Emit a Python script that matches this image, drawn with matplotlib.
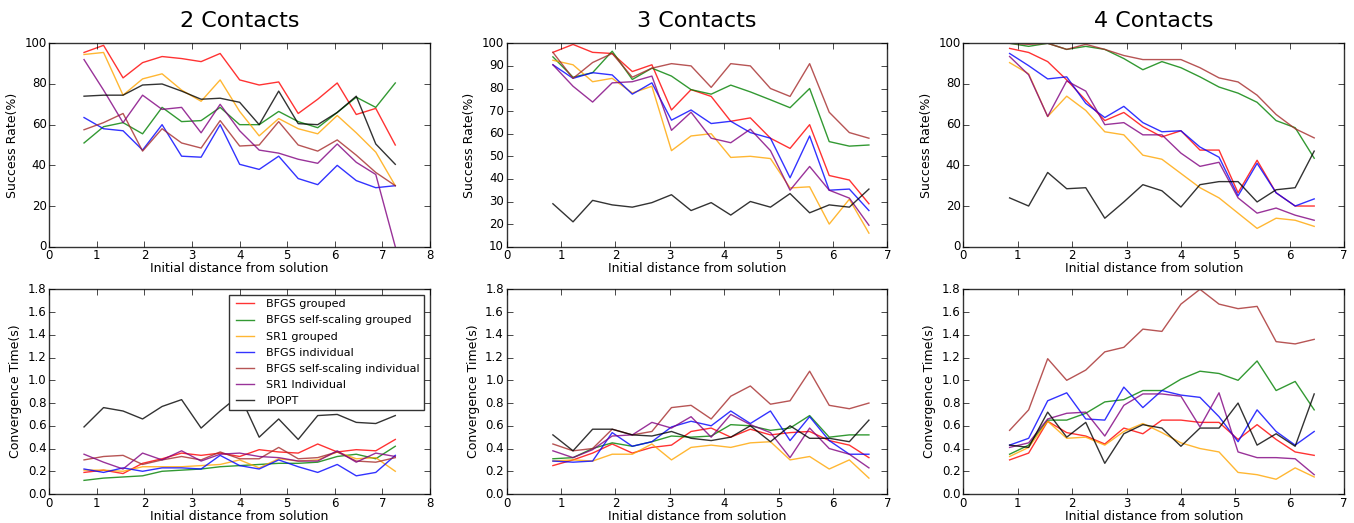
import numpy as np
import matplotlib
matplotlib.use("Agg")
import matplotlib.pyplot as plt

plt.style.use('classic')
plt.rcParams['font.family'] = 'DejaVu Sans'

labels = ['BFGS grouped', 'BFGS self-scaling grouped', 'SR1 grouped', 'BFGS individual',
          'BFGS self-scaling individual', 'SR1 Individual', 'IPOPT']
colors = ['red', 'green', 'orange', 'blue', 'brown', 'purple', 'black']
titles = ['2 Contacts', '3 Contacts', '4 Contacts']

# x positions (initial distance) for each contact count
x_2c = [0.73, 1.14, 1.55, 1.96, 2.37, 2.78, 3.19, 3.59, 4.0, 4.41, 4.82, 5.23, 5.64, 6.05, 6.45, 6.86, 7.27]
x_3c = [0.85, 1.22, 1.58, 1.94, 2.31, 2.67, 3.03, 3.39, 3.76, 4.12, 4.48, 4.85, 5.21, 5.57, 5.93, 6.30, 6.66]
x_4c = [0.85, 1.2, 1.55, 1.9, 2.25, 2.6, 2.95, 3.3, 3.65, 4.0, 4.35, 4.7, 5.05, 5.4, 5.75, 6.1, 6.45]

# success rate (%) - 2 contacts
sr_2c = [
    [95.5, 99, 83, 90.5, 93.5, 92.5, 91, 95, 82, 79.5, 81, 65.5, 72.5, 80.5, 65, 68, 50],
    [51, 59, 61, 55.5, 68.5, 61.5, 62, 68.5, 60, 60, 66.5, 61.5, 58.5, 66, 73.5, 68.5, 80.5],
    [94.5, 95.5, 74.5, 82.5, 85, 77, 71.5, 82, 66.5, 54.5, 63, 58, 55.5, 64.5, 56, 46.5, 30],
    [63.5, 58, 57, 47.5, 60, 44.5, 44, 60, 40.5, 38, 44.5, 33.5, 30.5, 40, 32.5, 29, 30],
    [57.5, 61, 65.5, 47, 58, 51, 48.5, 62, 49.5, 50, 61.5, 50, 47, 52.5, 45, 36.5, 30],
    [92, 77, 61, 74.5, 67.5, 68.5, 56, 70, 57, 47.5, 46, 43, 41, 50.5, 41.5, 35.5, 0],
    [74, 74.5, 74.5, 79.5, 80, 76.5, 72.5, 73, 71, 60, 76.5, 60.5, 60, 66, 74, 50.5, 40.5],
]

# success rate (%) - 3 contacts
sr_3c = [
    [96, 99.5, 96, 95.5, 87.5, 90.5, 70.5, 79.5, 76.5, 65.5, 67, 58, 53.5, 64, 41.5, 39.5, 29],
    [94, 85, 87, 96.5, 84, 89, 85.5, 79.5, 77.5, 81.5, 78.5, 75, 71.5, 80, 56.5, 54.5, 55],
    [92.5, 90.5, 83, 84.5, 78, 81, 52.5, 59, 60, 49.5, 50, 49, 36, 36.5, 20, 31, 16],
    [90.5, 84.5, 87, 86, 77.5, 82.5, 66, 70.5, 64.5, 65.5, 60.5, 58, 40.5, 59, 35, 35.5, 26],
    [96, 84.5, 91.5, 95.5, 85, 89, 91, 90, 80.5, 91, 90, 80, 76.5, 91, 69.5, 60.5, 58],
    [90.5, 81, 74, 82.5, 83, 85.5, 61.5, 69.5, 58, 56, 62, 52.5, 35, 45.5, 35, 31.5, 19.5],
    [29, 21, 30.5, 28.5, 27.5, 29.5, 33, 26, 29.5, 24, 30, 27.5, 33.5, 25, 28.5, 27.5, 35.5],
]

# success rate (%) - 4 contacts
sr_4c = [
    [97.5, 95.5, 91, 82, 72, 62, 66, 59, 54, 57, 47.5, 47.5, 26.5, 42.5, 26.5, 20, 20],
    [100, 98.5, 100, 97, 98.5, 97, 92.5, 87, 91, 88, 83.5, 78.5, 75.5, 71, 62, 58.5, 43.5],
    [90.5, 85, 64, 74, 67, 56.5, 55, 45, 43, 36, 29, 24, 16.5, 9, 14, 13, 10],
    [95, 89, 82.5, 83.5, 70.5, 63.5, 69, 61, 56.5, 57, 49, 44, 25, 41, 26.5, 20, 23.5],
    [100, 99.5, 100, 97, 99.5, 97, 94, 92, 92, 92, 88, 83, 81, 74.5, 65, 58, 53.5],
    [93.5, 84.5, 64, 81.5, 76.5, 60, 61, 55, 55, 46, 39.5, 41.5, 24, 16.5, 19, 15.5, 13],
    [24, 20, 36.5, 28.5, 29, 14, 22, 30.5, 27.5, 19.5, 30.5, 32, 32, 22, 28, 29, 47],
]

# convergence time (s) - 2 contacts
ct_2c = [
    [0.19, 0.21, 0.18, 0.27, 0.31, 0.36, 0.34, 0.36, 0.33, 0.39, 0.37, 0.36, 0.44, 0.37, 0.39, 0.38, 0.48],
    [0.12, 0.14, 0.15, 0.16, 0.20, 0.21, 0.22, 0.24, 0.25, 0.26, 0.27, 0.27, 0.28, 0.33, 0.35, 0.31, 0.42],
    [0.21, 0.21, 0.20, 0.24, 0.24, 0.24, 0.25, 0.26, 0.30, 0.23, 0.31, 0.29, 0.30, 0.37, 0.31, 0.32, 0.20],
    [0.22, 0.19, 0.23, 0.20, 0.23, 0.23, 0.22, 0.34, 0.25, 0.22, 0.30, 0.24, 0.19, 0.26, 0.16, 0.19, 0.34],
    [0.30, 0.33, 0.34, 0.26, 0.30, 0.33, 0.30, 0.37, 0.31, 0.31, 0.41, 0.31, 0.32, 0.37, 0.29, 0.28, 0.32],
    [0.35, 0.28, 0.22, 0.36, 0.30, 0.38, 0.29, 0.35, 0.36, 0.33, 0.32, 0.29, 0.29, 0.38, 0.28, 0.36, 0.33],
    [0.59, 0.76, 0.73, 0.66, 0.77, 0.83, 0.58, 0.73, 0.87, 0.50, 0.66, 0.48, 0.69, 0.70, 0.63, 0.62, 0.69],
]

# convergence time (s) - 3 contacts
ct_3c = [
    [0.25, 0.30, 0.36, 0.44, 0.36, 0.41, 0.43, 0.55, 0.58, 0.50, 0.57, 0.52, 0.54, 0.55, 0.47, 0.43, 0.32],
    [0.31, 0.32, 0.40, 0.45, 0.42, 0.46, 0.51, 0.50, 0.51, 0.61, 0.60, 0.56, 0.58, 0.69, 0.50, 0.52, 0.52],
    [0.29, 0.30, 0.29, 0.35, 0.35, 0.44, 0.30, 0.41, 0.43, 0.41, 0.45, 0.46, 0.30, 0.33, 0.22, 0.30, 0.14],
    [0.29, 0.28, 0.29, 0.54, 0.42, 0.46, 0.59, 0.64, 0.60, 0.73, 0.62, 0.73, 0.47, 0.68, 0.47, 0.35, 0.35],
    [0.44, 0.38, 0.40, 0.57, 0.52, 0.55, 0.76, 0.78, 0.66, 0.86, 0.95, 0.79, 0.82, 1.08, 0.78, 0.75, 0.80],
    [0.38, 0.32, 0.39, 0.51, 0.52, 0.63, 0.58, 0.68, 0.50, 0.70, 0.61, 0.54, 0.32, 0.58, 0.40, 0.35, 0.23],
    [0.52, 0.38, 0.57, 0.57, 0.52, 0.51, 0.55, 0.49, 0.47, 0.50, 0.60, 0.46, 0.60, 0.49, 0.49, 0.46, 0.65],
]

# convergence time (s) - 4 contacts
ct_4c = [
    [0.30, 0.36, 0.64, 0.54, 0.51, 0.44, 0.58, 0.53, 0.65, 0.65, 0.63, 0.63, 0.48, 0.61, 0.48, 0.37, 0.34],
    [0.35, 0.43, 0.65, 0.65, 0.71, 0.81, 0.83, 0.91, 0.91, 1.01, 1.08, 1.06, 1.00, 1.17, 0.91, 0.99, 0.74],
    [0.33, 0.41, 0.64, 0.49, 0.50, 0.43, 0.55, 0.62, 0.54, 0.45, 0.40, 0.37, 0.19, 0.17, 0.13, 0.23, 0.15],
    [0.43, 0.49, 0.82, 0.89, 0.66, 0.65, 0.94, 0.76, 0.91, 0.87, 0.85, 0.68, 0.46, 0.74, 0.55, 0.43, 0.55],
    [0.56, 0.74, 1.19, 1.00, 1.09, 1.25, 1.29, 1.45, 1.43, 1.67, 1.80, 1.67, 1.63, 1.65, 1.34, 1.32, 1.36],
    [0.41, 0.45, 0.66, 0.71, 0.72, 0.51, 0.78, 0.88, 0.88, 0.86, 0.59, 0.89, 0.37, 0.32, 0.32, 0.31, 0.17],
    [0.43, 0.41, 0.72, 0.50, 0.63, 0.27, 0.53, 0.61, 0.58, 0.42, 0.58, 0.58, 0.80, 0.43, 0.53, 0.42, 0.88],
]

xs = [x_2c, x_3c, x_4c]
success = [sr_2c, sr_3c, sr_4c]
times = [ct_2c, ct_3c, ct_4c]
xmax = [8, 7, 7]
sr_ylim = [(0, 100), (10, 100), (0, 100)]
sr_step = [20, 10, 20]

fig = plt.figure(figsize=(13.54, 5.23), dpi=100, facecolor='white')
lefts = [0.0364, 0.3742, 0.7115]
w = 0.2812

for j in range(3):
    ax_top = fig.add_axes([lefts[j], 0.5283, w, 0.3889])
    ax_bot = fig.add_axes([lefts[j], 0.0554, w, 0.3914])

    for k in range(7):
        ax_top.plot(xs[j], success[j][k], color=colors[k], lw=1, alpha=0.8)
        ax_bot.plot(xs[j], times[j][k], color=colors[k], lw=1, alpha=0.8, label=labels[k])

    ax_top.set_xlim(0, xmax[j])
    ax_top.set_ylim(*sr_ylim[j])
    ax_top.set_yticks(np.arange(sr_ylim[j][0], 101, sr_step[j]))
    ax_top.set_ylabel('Success Rate(%)', fontsize=9, labelpad=4)
    ax_top.set_title(titles[j], fontsize=16, pad=12)

    ax_bot.set_xlim(0, xmax[j])
    ax_bot.set_ylim(0, 1.8)
    ax_bot.set_yticks(np.arange(0, 1.81, 0.2))
    ax_bot.yaxis.set_major_formatter(matplotlib.ticker.FormatStrFormatter('%.1f'))
    ax_bot.set_ylabel('Convergence Time(s)', fontsize=9, labelpad=4)

    for ax in (ax_top, ax_bot):
        ax.set_facecolor('white')
        ax.set_xlabel('Initial distance from solution', fontsize=9, labelpad=0)
        ax.tick_params(labelsize=8.5, pad=2)
        for s in ax.spines.values():
            s.set_color('#333333')

    if j == 0:
        leg = ax_bot.legend(loc='upper right', fontsize=8, frameon=True, fancybox=False,
                            handlelength=2.2, labelspacing=0.55, borderaxespad=0.5)
        leg.get_frame().set_edgecolor('#333333')

fig.savefig('out.png', dpi=100, facecolor='white')
